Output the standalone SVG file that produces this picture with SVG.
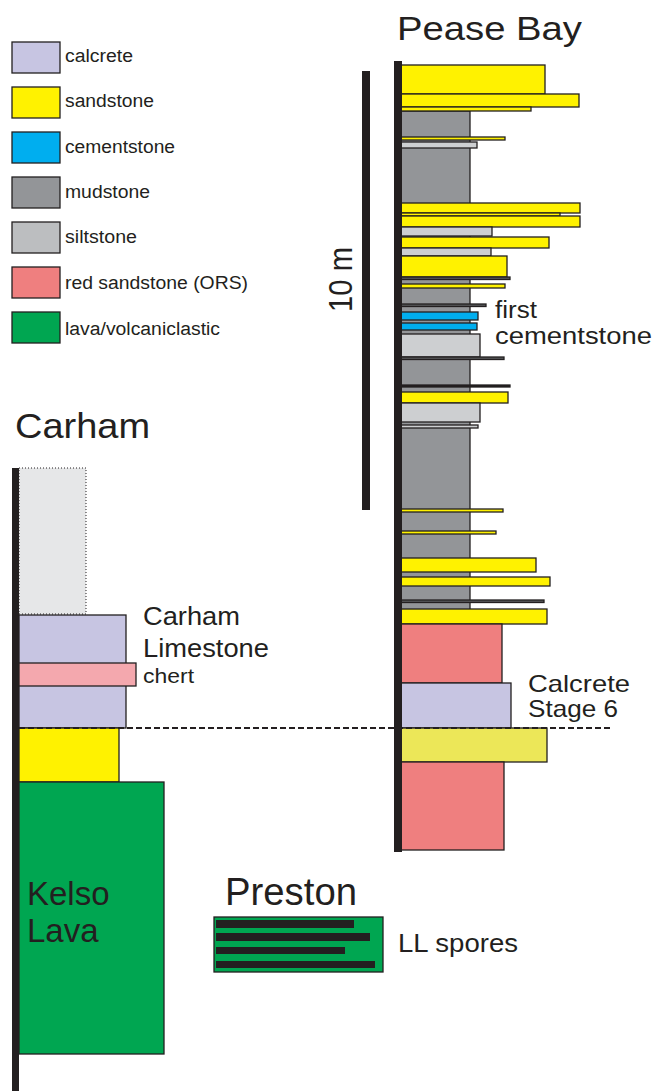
<svg xmlns="http://www.w3.org/2000/svg" width="656" height="1091" viewBox="0 0 656 1091">
<style>
text{font-family:"Liberation Sans",Arial,sans-serif;fill:#231F20}
.b{stroke:#231F20;stroke-width:1.3}
.cal{fill:#C7C5E2}.snd{fill:#FFF200}.cem{fill:#00AEEF}.mud{fill:#939598}.slt{fill:#CDCFD1}.red{fill:#EF7F7F}.lav{fill:#00A651}.drk{fill:#58595B}.blk{fill:#231F20}
.lg{font-size:18px}
</style>
<rect width="656" height="1091" fill="#fff"/>
<g id="legend">
<rect class="b cal" x="12" y="42" width="48" height="31"/><text class="lg" x="65" y="62" textLength="68" lengthAdjust="spacingAndGlyphs">calcrete</text>
<rect class="b snd" x="12" y="87" width="48" height="31"/><text class="lg" x="65" y="107" textLength="89" lengthAdjust="spacingAndGlyphs">sandstone</text>
<rect class="b cem" x="12" y="132" width="48" height="31"/><text class="lg" x="65" y="153" textLength="110" lengthAdjust="spacingAndGlyphs">cementstone</text>
<rect class="b mud" x="12" y="177" width="48" height="31"/><text class="lg" x="65" y="198" textLength="85" lengthAdjust="spacingAndGlyphs">mudstone</text>
<rect class="b" fill="#BCBEC0" x="12" y="222" width="48" height="31"/><text class="lg" x="65" y="243" textLength="72" lengthAdjust="spacingAndGlyphs">siltstone</text>
<rect class="b red" x="12" y="267" width="48" height="31"/><text class="lg" x="65" y="289" textLength="183" lengthAdjust="spacingAndGlyphs">red sandstone (ORS)</text>
<rect class="b lav" x="12" y="312" width="48" height="31"/><text class="lg" x="65" y="335" textLength="155" lengthAdjust="spacingAndGlyphs">lava/volcaniclastic</text>
</g>
<g id="pease-bay">
<text x="397" y="40" font-size="34" textLength="185" lengthAdjust="spacingAndGlyphs">Pease Bay</text>
<rect class="blk" x="362" y="71" width="8" height="439"/>
<text transform="translate(352,312) rotate(-90)" font-size="34" textLength="65" lengthAdjust="spacingAndGlyphs">10 m</text>
<rect class="b mud" x="401" y="111" width="69" height="513"/>
<rect class="b snd" x="401" y="65" width="144" height="29"/>
<rect class="b snd" x="401" y="94" width="178" height="13"/>
<rect class="b snd" x="401" y="107" width="130" height="4"/>
<rect class="b snd" x="401" y="137" width="104" height="3"/>
<rect class="b slt" x="401" y="142" width="76" height="6"/>
<rect class="b snd" x="401" y="203" width="179" height="10"/>
<rect class="b snd" x="401" y="213" width="159" height="3"/>
<rect class="b snd" x="401" y="216" width="179" height="11"/>
<rect class="b slt" x="401" y="227" width="91" height="9"/>
<rect class="b snd" x="401" y="237" width="148" height="11"/>
<rect class="b slt" x="401" y="248" width="90" height="8"/>
<rect class="b snd" x="401" y="256" width="106" height="21"/>
<rect class="b drk" x="401" y="277" width="109" height="2.5"/>
<rect class="b snd" x="401" y="284" width="104" height="4"/>
<rect class="b drk" x="401" y="304" width="85" height="2.5"/>
<rect class="b cem" x="401" y="312" width="77" height="8"/>
<rect class="b cem" x="401" y="323" width="76" height="7"/>
<rect class="b slt" x="401" y="334" width="79" height="23"/>
<rect class="b drk" x="401" y="357" width="103" height="2.5"/>
<rect class="b blk" x="401" y="385" width="109" height="2"/>
<rect class="b snd" x="401" y="392" width="107" height="11"/>
<rect class="b slt" x="401" y="403" width="79" height="19"/>
<rect class="b slt" x="401" y="425" width="77" height="3"/>
<rect class="b snd" x="401" y="509" width="102" height="3"/>
<rect class="b snd" x="401" y="531" width="95" height="3"/>
<rect class="b snd" x="401" y="558" width="135" height="14"/>
<rect class="b snd" x="401" y="577" width="149" height="9"/>
<rect class="b drk" x="401" y="600" width="143" height="2.5"/>
<rect class="b snd" x="401" y="609" width="146" height="15"/>
<rect class="b red" x="401" y="624" width="101" height="59"/>
<rect class="b cal" x="401" y="683" width="110" height="45"/>
<rect class="b" fill="#ECE758" x="401" y="728" width="146" height="34"/>
<rect class="b red" x="401" y="762" width="103" height="88"/>
<rect class="blk" x="394" y="61" width="8" height="791"/>
<text x="495" y="318" font-size="23" textLength="42" lengthAdjust="spacingAndGlyphs">first</text>
<text x="495" y="344" font-size="23" textLength="157" lengthAdjust="spacingAndGlyphs">cementstone</text>
<text x="528" y="692" font-size="24" textLength="102" lengthAdjust="spacingAndGlyphs">Calcrete</text>
<text x="528" y="717" font-size="24" textLength="90" lengthAdjust="spacingAndGlyphs">Stage 6</text>
</g>
<g id="carham">
<text x="15" y="438" font-size="35" textLength="135" lengthAdjust="spacingAndGlyphs">Carham</text>
<rect x="19" y="468" width="67" height="146" fill="#E6E7E8" stroke="#231F20" stroke-width="1" stroke-dasharray="1 2"/>
<rect class="b cal" x="19" y="615" width="107" height="113"/>
<rect class="b" fill="#F4A8AE" x="19" y="663" width="117" height="23"/>
<rect class="b snd" x="19" y="728" width="100" height="54"/>
<rect class="b lav" x="19" y="782" width="145" height="272"/>
<rect class="blk" x="12" y="468" width="7" height="623"/>
<text x="143" y="625" font-size="25" textLength="97" lengthAdjust="spacingAndGlyphs">Carham</text>
<text x="143" y="657" font-size="25" textLength="126" lengthAdjust="spacingAndGlyphs">Limestone</text>
<text x="143" y="683" font-size="21" textLength="51" lengthAdjust="spacingAndGlyphs">chert</text>
<text x="27" y="905" font-size="33">Kelso</text>
<text x="27" y="942" font-size="33">Lava</text>
</g>
<g id="preston">
<text x="225" y="905" font-size="38" textLength="132" lengthAdjust="spacingAndGlyphs">Preston</text>
<rect class="b lav" x="214" y="917" width="169" height="55"/>
<rect class="blk" x="216" y="920" width="138" height="8"/>
<rect class="blk" x="216" y="933" width="154" height="8"/>
<rect class="blk" x="216" y="947" width="129" height="7"/>
<rect class="blk" x="216" y="961" width="159" height="7"/>
<text x="398" y="952" font-size="26" textLength="120" lengthAdjust="spacingAndGlyphs">LL spores</text>
</g>
<g id="connectors">
<line x1="19" y1="728" x2="612" y2="728" stroke="#231F20" stroke-width="2.2" stroke-dasharray="6 3"/>
</g>
</svg>
